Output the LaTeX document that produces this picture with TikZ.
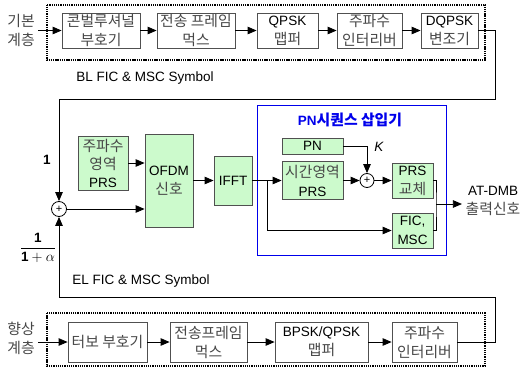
\documentclass[tikz,border=0pt]{standalone}
\usepackage{amsmath}
\usepackage{fontspec}
\setmainfont{Liberation Sans}
\newfontfamily\kr[Scale=1.1]{Noto Sans CJK KR}
\usetikzlibrary{arrows.meta}
\definecolor{prsgreen}{RGB}{204,250,204}
\definecolor{edgegray}{RGB}{80,80,80}
\definecolor{pnblue}{RGB}{0,0,235}
\newcommand\ko[1]{{\kr\color{black!72}#1}}
\begin{document}
\begin{tikzpicture}[x=1pt,y=-1pt,line width=0.8pt,
    font=\fontsize{13.5}{19}\selectfont,
    >={Triangle[length=9pt,width=7.5pt]},
    blk/.style={draw=edgegray,fill=white,align=center,inner sep=0pt},
    grn/.style={blk,fill=prsgreen},
    bx/.style 2 args={minimum width=#1,minimum height=#2},
    sumc/.style={draw,circle,fill=white,inner sep=0pt,minimum size=15pt,font=\fontsize{11}{11}\selectfont},
    frame/.style={line width=2pt,dash pattern=on 1.3pt off 0.9pt}]
  \useasboundingbox (0,0) rectangle (523,370);
  \draw[frame] (47,4.5) rectangle (485,60);
  \draw[frame] (47,313) rectangle (485,366);
  \draw[pnblue] (257,105) rectangle (446,255);
  \draw
    (101,30.5) node[blk,bx={78}{35}] (conv){\ko{콘벌루셔널}\\\ko{부호기}}
    (196,30.5) node[blk,bx={78}{35}] (mux1){\ko{전송 프레임}\\\ko{먹스}}
    (287.5,30.5) node[blk,bx={61}{35}] (qpsk){QPSK\\\ko{맵퍼}}
    (369.5,30.5) node[blk,bx={65}{35}] (intl1){\ko{주파수}\\\ko{인터리버}}
    (449.5,30.5) node[blk,bx={57}{35}] (dqpsk){DQPSK\\\ko{변조기}}
    (107.5,342) node[blk,bx={79}{40}] (turbo){\ko{터보 부호기}}
    (208.5,342) node[blk,bx={77}{40}] (mux2){\ko{전송프레임}\\\ko{먹스}}
    (321.5,342) node[blk,bx={93}{40}] (bpsk){BPSK/QPSK\\\ko{맵퍼}}
    (424.5,342) node[blk,bx={65}{40}] (intl2){\ko{주파수}\\\ko{인터리버}};
  \draw
    (21,30) node[align=center] (base){\ko{기본}\\\ko{계층}}
    (21,338) node[align=center] (enh){\ko{향상}\\\ko{계층}}
    (145,78) node (bl){BL FIC \& MSC Symbol}
    (141,281) node (el){EL FIC \& MSC Symbol}
    (47,160) node (one){\textbf{1}}
    (38,248) node (gain){$\dfrac{\textbf{1}}{\textbf{1}+\alpha}$}
    (350,120) node[text=pnblue] (title){\textbf{PN{\kr 시퀀스 삽입기}}}
    (379,147) node (k){\textit{K}}
    (493,201) node[align=center] (out){AT-DMB\\\ko{출력신호}};
  \draw
    (103,163) node[grn,bx={50}{54}] (fprs){\ko{주파수}\\[-1pt]\ko{영역}\\[-1pt]PRS}
    (169,180.5) node[grn,bx={48}{93}] (ofdm){OFDM\\\ko{신호}}
    (233,180.5) node[grn,bx={38}{49}] (ifft){IFFT}
    (312.5,146) node[grn,bx={61}{16}] (pn){PN}
    (312.5,180.5) node[grn,bx={61}{38}] (tprs){\ko{시간영역}\\PRS}
    (412.5,180.5) node[grn,bx={41}{35}] (rprs){PRS\\\ko{교체}}
    (412.5,230.5) node[grn,bx={41}{35}] (fic){FIC,\\MSC}
    (59,209) node[sumc] (sum1){+}
    (367,180.5) node[sumc,minimum size=14pt] (sum2){+};
  \coordinate (blr) at (495,99);
  \coordinate (bll) at (59,99);
  \coordinate (elr) at (495,297);
  \coordinate (ell) at (59,297);
  \coordinate (br) at (267,180.5);
  \coordinate (mrg) at (436,204);
  \begin{scope}[->]
    \draw (38,30.5) -- (conv);
    \draw (conv) -- (mux1);
    \draw (mux1) -- (qpsk);
    \draw (qpsk) -- (intl1);
    \draw (intl1) -- (dqpsk);
    \draw (38,342) -- (turbo);
    \draw (turbo) -- (mux2);
    \draw (mux2) -- (bpsk);
    \draw (bpsk) -- (intl2);
    \draw (dqpsk.east) -| (blr) -- (bll) -- (sum1);
    \draw (intl2.east) -| (elr) -- (ell) -- (sum1);
    \draw (fprs.east) -- (ofdm.west |- fprs.east);
    \draw (sum1) -- (ofdm.west |- sum1);
    \draw (ofdm) -- (ifft);
    \draw (ifft) -- (br) -- (tprs);
    \draw (br) |- (fic);
    \draw (pn.east) -| (sum2);
    \draw (tprs) -- (sum2);
    \draw (sum2) -- (rprs);
    \draw (mrg) -- (out.west |- mrg);
  \end{scope}
  \draw (rprs.east) -| (mrg) |- (fic.east);
\end{tikzpicture}
\end{document}
